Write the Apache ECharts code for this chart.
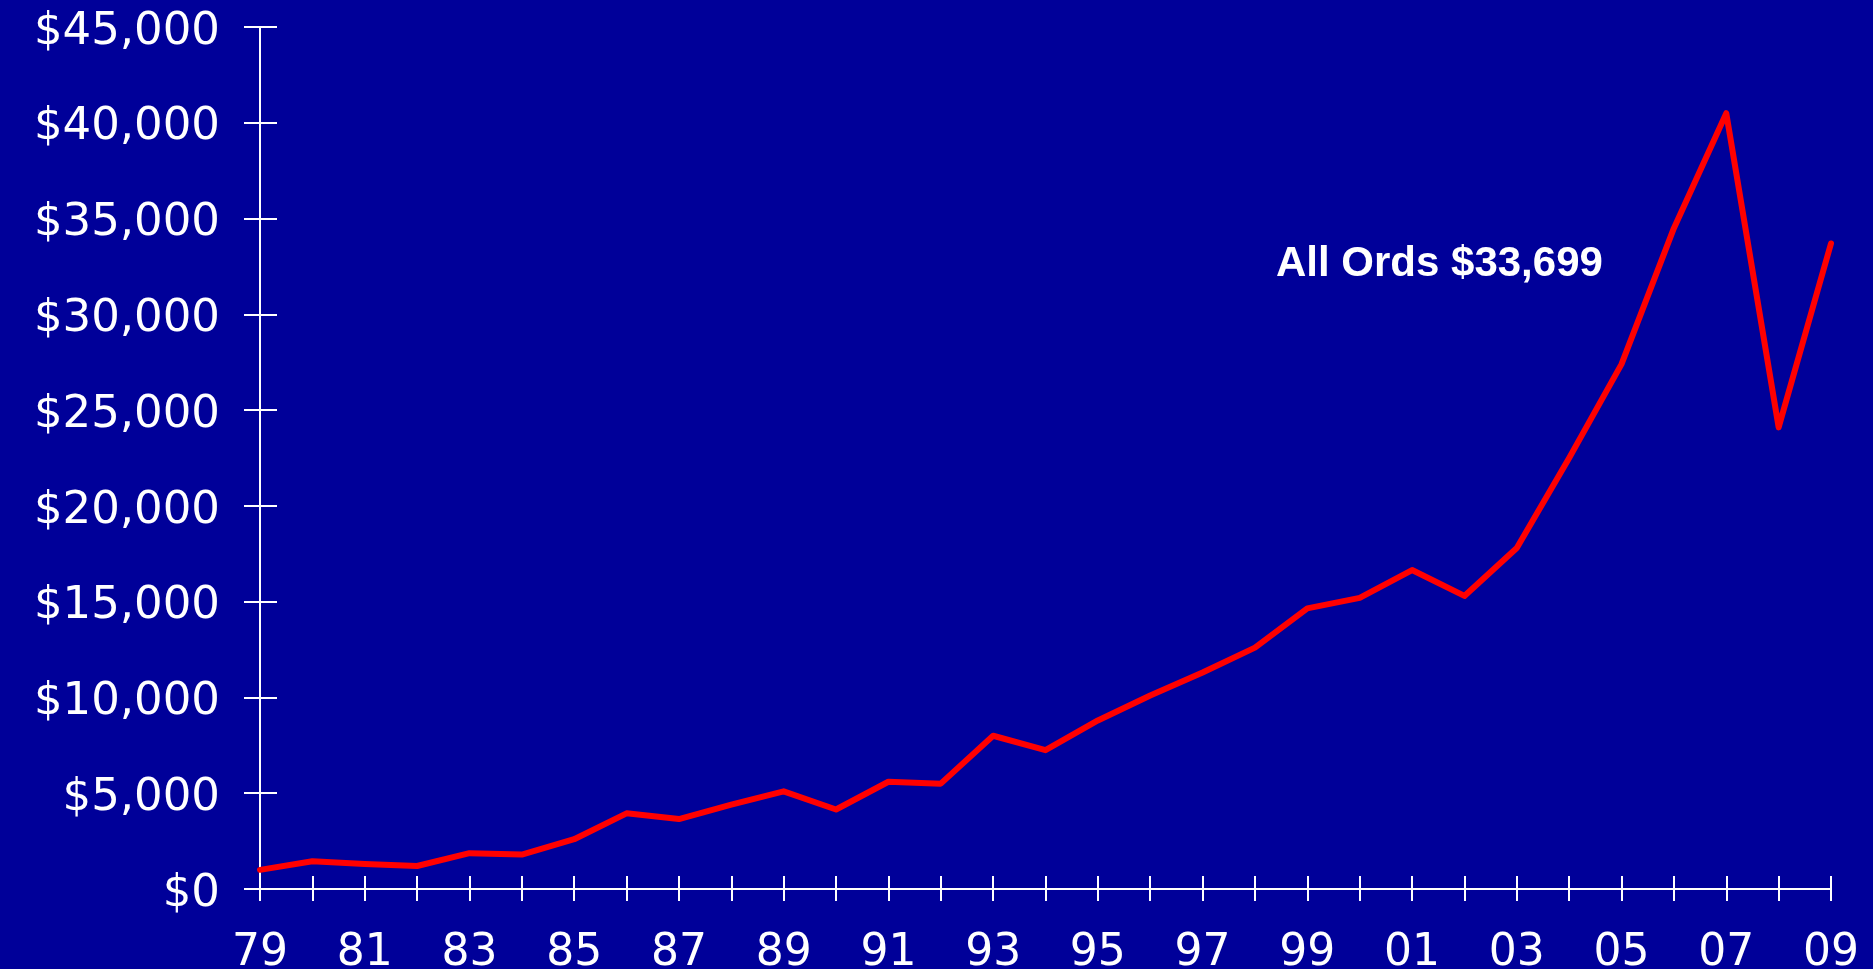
<!DOCTYPE html>
<html>
<head>
<meta charset="utf-8">
<style>
  html, body { margin: 0; padding: 0; background: #000099; }
  #chart { width: 1873px; height: 969px; }
</style>
<script src="https://cdn.jsdelivr.net/npm/echarts@6/dist/echarts.min.js"></script>
</head>
<body>
<div id="chart"></div>
<script>
// years 1979 - 2009
const years = ['79', '80', '81', '82', '83', '84', '85', '86', '87', '88',
  '89', '90', '91', '92', '93', '94', '95', '96', '97', '98',
  '99', '00', '01', '02', '03', '04', '05', '06', '07', '08', '09']

// value of $1,000 invested in All Ords
const allOrds = [1000, 1450, 1300, 1200, 1870, 1800, 2600, 3950, 3650, 4400,
  5100, 4150, 5600, 5500, 8000, 7250, 8800, 10100, 11300, 12600,
  14650, 15200, 16650, 15300, 17800, 22500, 27400, 34500, 40500, 24100, 33699]

const yMin = 0
const yMax = 45000
const yStep = 5000
const noteText = 'All Ords $33,699'

const white = '#ffffff'
const labelFont = 'DejaVu Sans'

const chart = echarts.init(document.getElementById('chart'))

// two copies of each axis so the ticks cross the axis line
const option = {
  backgroundColor: '#000099',
  animation: false,
  grid: { left: 260, right: 42, top: 27, bottom: 80, containLabel: false, outerBoundsMode: 'none' },
  xAxis: [
    {
      type: 'category',
      data: years,
      boundaryGap: false,
      axisLine: { lineStyle: { color: white, width: 2 } },
      axisTick: { interval: 0, length: 12, lineStyle: { color: white, width: 2 } },
      axisLabel: {
        interval: 1,
        color: white,
        fontFamily: labelFont,
        fontSize: 44,
        margin: 43
      },
      splitLine: { show: false }
    },
    {
      type: 'category',
      data: years,
      position: 'bottom',
      boundaryGap: false,
      axisLine: { show: false },
      axisTick: { inside: true, interval: 0, length: 13, lineStyle: { color: white, width: 2 } },
      axisLabel: { show: false },
      splitLine: { show: false }
    }
  ],
  yAxis: [
    {
      type: 'value',
      min: yMin,
      max: yMax,
      interval: yStep,
      axisLine: { show: true, lineStyle: { color: white, width: 2 } },
      axisTick: { show: true, length: 16, lineStyle: { color: white, width: 2 } },
      axisLabel: {
        color: white,
        margin: 40,
        // rich block with top padding nudges the digits down onto the tick
        formatter: v => '{v|$' + v.toLocaleString('en-US') + '}',
        rich: {
          v: {
            color: white,
            fontFamily: labelFont,
            fontSize: 45,
            lineHeight: 45,
            padding: [10, 0, 0, 0]
          }
        }
      },
      splitLine: { show: false }
    },
    {
      type: 'value',
      position: 'left',
      min: yMin,
      max: yMax,
      interval: yStep,
      axisLine: { show: false },
      axisTick: { show: true, inside: true, length: 17, lineStyle: { color: white, width: 2 } },
      axisLabel: { show: false },
      splitLine: { show: false }
    }
  ],
  series: [
    {
      type: 'line',
      data: allOrds,
      xAxisIndex: 0,
      yAxisIndex: 0,
      symbol: 'none',
      lineStyle: { color: '#ff0000', width: 6, cap: 'round', join: 'round' },
      z: 5
    }
  ],
  graphic: [
    {
      type: 'text',
      left: 1276,
      top: 243,
      style: {
        text: noteText,
        fill: white,
        font: 'bold 42px "Liberation Sans", Arial, sans-serif'
      }
    }
  ]
}

chart.setOption(option)
</script>
</body>
</html>
